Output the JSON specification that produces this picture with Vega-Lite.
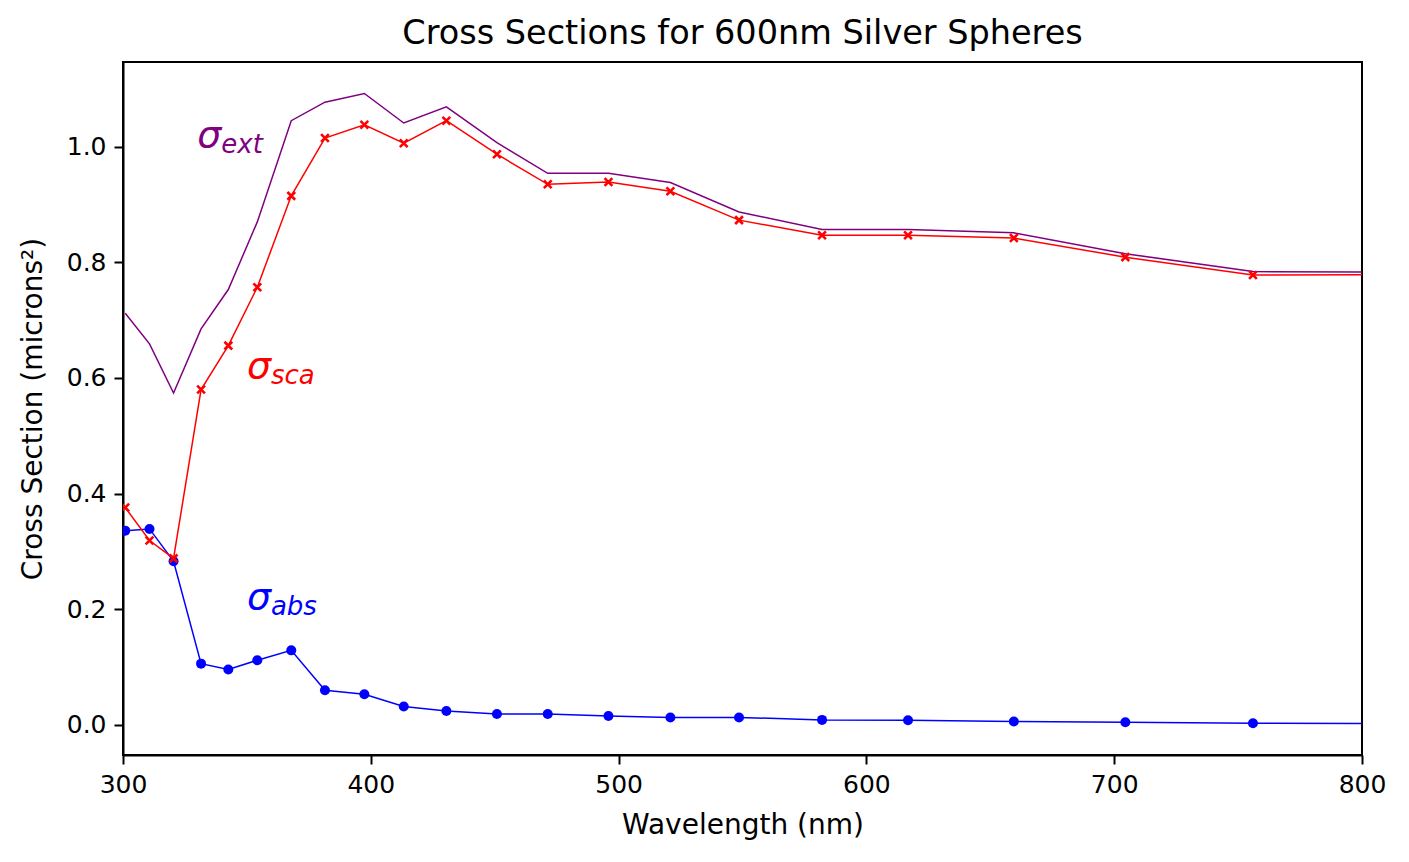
{
  "$schema": "https://vega.github.io/schema/vega-lite/v6.json",
  "autosize": {"type": "none"},
  "width": 1239,
  "height": 693,
  "padding": {"left": 123, "top": 62, "right": 47, "bottom": 107},
  "background": "white",
  "title": {"text": "Cross Sections for 600nm Silver Spheres", "font": "DejaVu Sans", "fontSize": 33.5, "fontWeight": "normal", "color": "black", "offset": 11},
  "config": {
    "view": {"stroke": "black", "strokeWidth": 2},
    "axis": {"font": "DejaVu Sans", "labelFont": "DejaVu Sans", "titleFont": "DejaVu Sans", "labelFontSize": 25, "titleFontSize": 28, "titleFontWeight": "normal", "labelColor": "black", "titleColor": "black", "domainColor": "black", "domainWidth": 2, "tickColor": "black", "tickWidth": 2, "tickSize": 9, "grid": false, "labelFlush": false}
  },
  "datasets": {
    "cs": [
      {"wl": 300.9, "ext": 0.712, "sca": 0.376, "abs": 0.336},
      {"wl": 310.7, "ext": 0.659, "sca": 0.319, "abs": 0.339},
      {"wl": 320.4, "ext": 0.574, "sca": 0.288, "abs": 0.283},
      {"wl": 331.5, "ext": 0.685, "sca": 0.580, "abs": 0.106},
      {"wl": 342.5, "ext": 0.753, "sca": 0.656, "abs": 0.096},
      {"wl": 354.2, "ext": 0.870, "sca": 0.757, "abs": 0.112},
      {"wl": 367.9, "ext": 1.045, "sca": 0.915, "abs": 0.129},
      {"wl": 381.5, "ext": 1.077, "sca": 1.015, "abs": 0.060},
      {"wl": 397.4, "ext": 1.092, "sca": 1.038, "abs": 0.053},
      {"wl": 413.3, "ext": 1.041, "sca": 1.006, "abs": 0.032},
      {"wl": 430.5, "ext": 1.069, "sca": 1.045, "abs": 0.024},
      {"wl": 450.9, "ext": 1.007, "sca": 0.987, "abs": 0.019},
      {"wl": 471.4, "ext": 0.954, "sca": 0.935, "abs": 0.019},
      {"wl": 495.9, "ext": 0.954, "sca": 0.939, "abs": 0.0156},
      {"wl": 520.9, "ext": 0.938, "sca": 0.923, "abs": 0.013},
      {"wl": 548.6, "ext": 0.887, "sca": 0.873, "abs": 0.013},
      {"wl": 582.1, "ext": 0.857, "sca": 0.847, "abs": 0.0087},
      {"wl": 616.8, "ext": 0.857, "sca": 0.847, "abs": 0.008},
      {"wl": 659.5, "ext": 0.851, "sca": 0.842, "abs": 0.006},
      {"wl": 704.5, "ext": 0.815, "sca": 0.809, "abs": 0.0046},
      {"wl": 756.0, "ext": 0.784, "sca": 0.778, "abs": 0.003},
      {"wl": 821.1, "ext": 0.783, "sca": 0.779, "abs": 0.0025}
    ],
    "labels": [
      {"x": 330, "y": 1.0, "sym": "σ", "sub": "ext", "color": "purple"},
      {"x": 350, "y": 0.6, "sym": "σ", "sub": "sca", "color": "red"},
      {"x": 350, "y": 0.2, "sym": "σ", "sub": "abs", "color": "blue"}
    ]
  },
  "data": {"name": "cs"},
  "encoding": {
    "x": {"field": "wl", "type": "quantitative", "scale": {"domain": [300, 800], "nice": false, "zero": false}, "axis": {"title": "Wavelength (nm)", "values": [300, 400, 500, 600, 700, 800], "format": "d", "labelPadding": 8, "titlePadding": 14}}
  },
  "layer": [
    {
      "mark": {"type": "line", "color": "purple", "strokeWidth": 1.5, "clip": true},
      "encoding": {"y": {"field": "ext", "type": "quantitative", "scale": {"domain": [-0.052, 1.1465], "nice": false, "zero": false}, "axis": {"title": "Cross Section (microns²)", "values": [0, 0.2, 0.4, 0.6, 0.8, 1.0], "format": ".1f", "labelPadding": 8, "titlePadding": 19}}}
    },
    {
      "mark": {"type": "line", "color": "blue", "strokeWidth": 1.5, "clip": true},
      "encoding": {"y": {"field": "abs", "type": "quantitative"}}
    },
    {
      "mark": {"type": "point", "shape": "circle", "filled": true, "color": "blue", "size": 100, "opacity": 1, "clip": true},
      "encoding": {"y": {"field": "abs", "type": "quantitative"}}
    },
    {
      "mark": {"type": "line", "color": "red", "strokeWidth": 1.5, "clip": true},
      "encoding": {"y": {"field": "sca", "type": "quantitative"}}
    },
    {
      "mark": {"type": "point", "shape": "M-1,-1L1,1M1,-1L-1,1", "filled": false, "color": "red", "strokeWidth": 2.6, "size": 60, "opacity": 1, "clip": true},
      "encoding": {"y": {"field": "sca", "type": "quantitative"}}
    },
    {
      "data": {"name": "labels"},
      "mark": {"type": "text", "font": "DejaVu Sans", "fontSize": 38, "fontStyle": "italic", "align": "left", "baseline": "alphabetic"},
      "encoding": {
        "x": {"field": "x", "type": "quantitative"},
        "y": {"field": "y", "type": "quantitative"},
        "text": {"field": "sym"},
        "color": {"field": "color", "type": "nominal", "scale": null}
      }
    },
    {
      "data": {"name": "labels"},
      "mark": {"type": "text", "font": "DejaVu Sans", "fontSize": 26, "fontStyle": "italic", "align": "left", "baseline": "alphabetic", "dx": 24, "dy": 6},
      "encoding": {
        "x": {"field": "x", "type": "quantitative"},
        "y": {"field": "y", "type": "quantitative"},
        "text": {"field": "sub"},
        "color": {"field": "color", "type": "nominal", "scale": null}
      }
    }
  ]
}
